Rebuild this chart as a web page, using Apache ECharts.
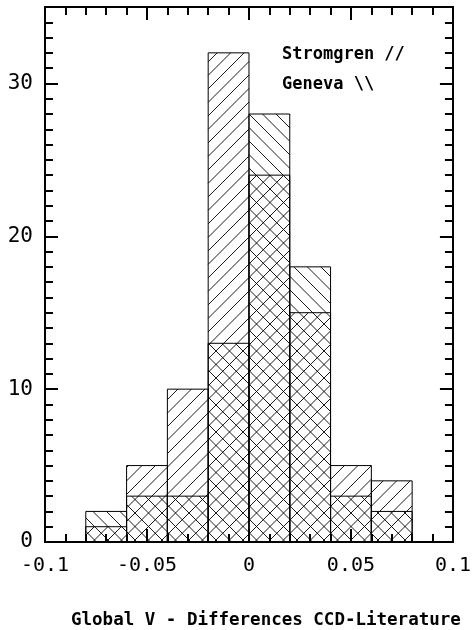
<!DOCTYPE html>
<html>
<head>
<meta charset="utf-8">
<script src="https://cdn.jsdelivr.net/npm/echarts@6/dist/echarts.min.js"></script>
<style>
html,body{margin:0;padding:0;background:#fff;}
#c{width:474px;height:630px;}
</style>
</head>
<body>
<div id="c"></div>
<script>
// Data
var binLeft = [-0.08, -0.06, -0.04, -0.02, 0.00, 0.02, 0.04, 0.06];
var binWidth = 0.02;
var stromgren = [1, 5, 10, 32, 24, 15, 5, 4];
var geneva    = [2, 3, 3, 13, 28, 18, 3, 2];
var xMajorTicks = [-0.1, -0.05, 0, 0.05, 0.1];
var yMajorTicks = [0, 10, 20, 30];
var xTitle = 'Global V - Differences CCD-Literature';
var legendLines = ['Stromgren //', 'Geneva \\\\'];

var FONT = 'DejaVu Sans Mono';
var xMinor = [];
for (var i = -10; i <= 10; i++) xMinor.push(Math.round(i) / 100);
var yMinor = [];
for (var j = 0; j <= 35; j++) yMinor.push(j);

function seriesData(vals) {
  return binLeft.map(function (l, k) { return [l, l + binWidth, vals[k]]; });
}

var SP = 13.5;
function makeRender(dir) {
  return function (params, api) {
    var x0 = api.value(0), x1 = api.value(1), v = api.value(2);
    var p0 = api.coord([x0, 0]);
    var p1 = api.coord([x1, v]);
    var L = p0[0], R = p1[0], T = p1[1], B = p0[1];
    var children = [];
    var c, xs, xe, cStart, cEnd;
    if (dir === 'fwd') {
      cStart = Math.ceil((L + T) / SP) * SP;
      cEnd = R + B;
      for (c = cStart; c <= cEnd; c += SP) {
        xs = Math.max(L, c - B); xe = Math.min(R, c - T);
        if (xe > xs) children.push({type: 'line', shape: {x1: xs, y1: c - xs, x2: xe, y2: c - xe},
          style: {stroke: '#000', lineWidth: 0.9}});
      }
    } else {
      cStart = Math.ceil((L - B) / SP) * SP;
      cEnd = R - T;
      for (c = cStart; c <= cEnd; c += SP) {
        xs = Math.max(L, c + T); xe = Math.min(R, c + B);
        if (xe > xs) children.push({type: 'line', shape: {x1: xs, y1: xs - c, x2: xe, y2: xe - c},
          style: {stroke: '#000', lineWidth: 0.9}});
      }
    }
    children.push({type: 'rect', shape: {x: L, y: T, width: R - L, height: B - T},
      style: {fill: 'none', stroke: '#000', lineWidth: 1}});
    return {type: 'group', children: children};
  };
}

function xAx(pos, showLabel, ticks, len) {
  return {
    type: 'value', position: pos, min: -0.1, max: 0.1, gridIndex: 0,
    axisLine: {show: true, onZero: false, lineStyle: {color: '#000', width: 2}},
    axisTick: {show: true, inside: true, length: len, customValues: ticks, lineStyle: {color: '#000', width: 2}},
    axisLabel: {show: showLabel, customValues: xMajorTicks, color: '#000', fontFamily: FONT, fontSize: 20, margin: 14,
      formatter: function (v) { return String(+v.toFixed(2)); }},
    splitLine: {show: false}
  };
}
function yAx(pos, showLabel, ticks, len) {
  return {
    type: 'value', position: pos, min: 0, max: 35, gridIndex: 0,
    axisLine: {show: true, onZero: false, lineStyle: {color: '#000', width: 2}},
    axisTick: {show: true, inside: true, length: len, customValues: ticks, lineStyle: {color: '#000', width: 2}},
    axisLabel: {show: showLabel, customValues: yMajorTicks, color: '#000', fontFamily: FONT, fontSize: 21, margin: 12},
    splitLine: {show: false}
  };
}

var chart = echarts.init(document.getElementById('c'), null, {renderer: 'canvas'});
chart.setOption({
  animation: false,
  backgroundColor: '#fff',
  grid: {left: 45, right: 17, top: 7, bottom: 88},
  xAxis: [
    xAx('bottom', true, xMajorTicks, 13),
    xAx('bottom', false, xMinor, 8),
    xAx('top', false, xMajorTicks, 13),
    xAx('top', false, xMinor, 8)
  ],
  yAxis: [
    yAx('left', true, yMajorTicks, 13),
    yAx('left', false, yMinor, 8),
    yAx('right', false, yMajorTicks, 13),
    yAx('right', false, yMinor, 8)
  ],
  graphic: [
    {type: 'text', left: 71, top: 611, style: {text: xTitle, font: 'bold 17.5px "' + FONT + '"', fill: '#000'}},
    {type: 'text', left: 282, top: 46, style: {text: legendLines[0], font: 'bold 17px "' + FONT + '"', fill: '#000'}},
    {type: 'text', left: 282, top: 76, style: {text: legendLines[1], font: 'bold 17px "' + FONT + '"', fill: '#000'}}
  ],
  series: [
    {type: 'custom', name: 'Stromgren', xAxisIndex: 0, yAxisIndex: 0, renderItem: makeRender('fwd'),
      data: seriesData(stromgren), encode: {x: [0, 1], y: 2}, clip: false},
    {type: 'custom', name: 'Geneva', xAxisIndex: 0, yAxisIndex: 0, renderItem: makeRender('back'),
      data: seriesData(geneva), encode: {x: [0, 1], y: 2}, clip: false}
  ]
});
</script>
</body>
</html>
